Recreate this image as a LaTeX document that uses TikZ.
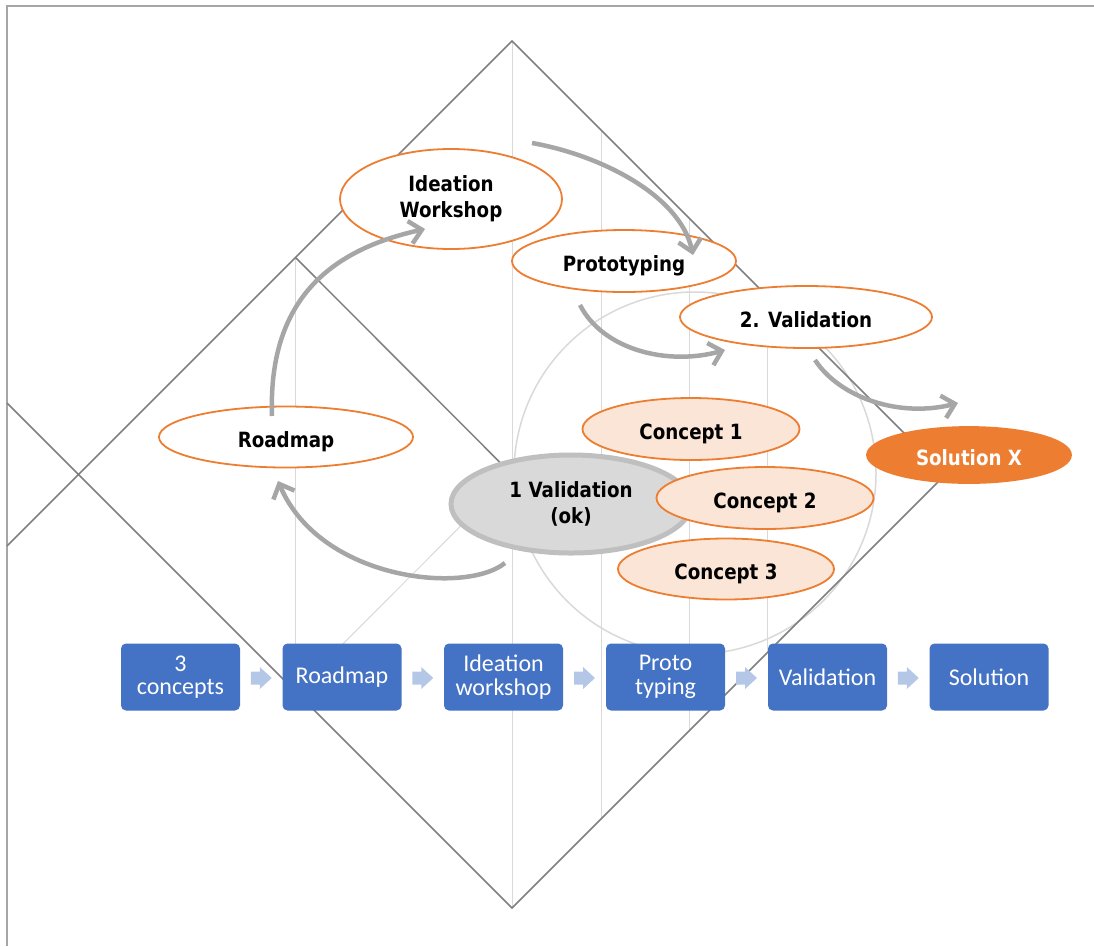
\documentclass[tikz,border=0pt]{standalone}
\usepackage{fontspec}
\setmainfont{Carlito}
\newfontfamily\elfont[FakeStretch=0.87]{DejaVu Sans}
\usetikzlibrary{arrows.meta,calc,shapes.geometric}

\definecolor{frameg}{HTML}{A6A6A6}
\definecolor{lineg}{HTML}{808080}
\definecolor{lightg}{HTML}{D9D9D9}
\definecolor{accent}{HTML}{ED7D31}
\definecolor{peach}{HTML}{FBE5D6}
\definecolor{boxblue}{HTML}{4472C4}
\definecolor{chevron}{HTML}{B4C7E7}
\definecolor{arrowg}{HTML}{A6A6A6}
\definecolor{okfill}{HTML}{D9D9D9}
\definecolor{okline}{HTML}{BFBFBF}

\begin{document}
\begin{tikzpicture}[x=1pt,y=-1pt,
  guide/.style={lightg, line width=1pt},
  edge/.style={lineg, line width=1.5pt},
  ell/.style={ellipse, draw=accent, line width=1.8pt, fill=white, inner sep=0pt,
    align=center, font={\elfont\bfseries\fontsize{21}{26}\selectfont}},
  oneline/.style={text height=20pt, text depth=0pt},
  concept/.style={ell, oneline, fill=peach},
  okell/.style={ell, draw=okline, line width=5pt, fill=okfill},
  solx/.style={ell, oneline, fill=accent, text=white},
  stepbox/.style={rectangle, rounded corners=5pt, fill=boxblue, text=white,
    minimum width=119pt, minimum height=67pt, inner sep=0pt, align=center,
    font={\fontsize{24}{23.5}\selectfont}},
  flow/.style={draw=arrowg, line width=4.5pt,
    -{Straight Barb[length=12pt,width=23pt]}}]

\useasboundingbox (0,0) rectangle (1094,946);

% frame
\draw[frameg, line width=2pt] (7,946) -- (7,6) -- (1094,6);

% key points of the diamond
\coordinate (top) at (512,41);
\coordinate (bot) at (512,908);
\coordinate (rgt) at (945.5,474.5);
\coordinate (ctr) at (512,474.5);
\coordinate (tl) at (295.5,257.5);
\coordinate (bl) at (295.5,691.5);

% light vertical guides
\draw[guide] (tl) -- (bl);
\draw[guide] (top) -- (bot);
\draw[guide] (601,130.5) -- (601,819);
\draw[guide] (689,218.5) -- (689,731);
\draw[guide] (767,296.5) -- (767,653);
\draw[guide] (ctr) -- (bl);

% circle
\draw[lightg, line width=1.5pt] (695,473) circle[radius=181];

% diamond edges
\draw[edge] (7,546) -- (top) -- (rgt) -- (bot) -- (7,403);
\draw[edge] (tl) -- (ctr);

% ellipses
\node[ell, minimum width=222pt, minimum height=100pt] (ideation) at (451,199) {Ideation\\Workshop};
\node[ell, oneline, minimum width=224pt, minimum height=62pt] (proto) at (624,261) {Prototyping};
\node[ell, oneline, minimum width=252pt, minimum height=62pt] (val2) at (806,317) {2. Validation};
\node[ell, oneline, minimum width=254pt, minimum height=61pt] (roadmap) at (286,437) {Roadmap};
\node[concept, minimum width=217pt, minimum height=62pt] (c1) at (691,429) {Concept 1};
\node[okell, minimum width=240pt, minimum height=98pt] (ok) at (571,504) {1 Validation\\(ok)};
\node[concept, minimum width=217pt, minimum height=62pt] (c2) at (765,498) {Concept 2};
\node[concept, minimum width=216pt, minimum height=61pt] (c3) at (726,569) {Concept 3};
\node[solx, minimum width=204pt, minimum height=56pt] (solx) at (969,455) {Solution X};

% flow arrows
\coordinate (f1a) at ($(roadmap.center)+(-14,-21)$);
\coordinate (f1b) at ($(ideation.center)+(-26,30)$);
\coordinate (f2a) at ($(ideation.center)+(81,-56)$);
\coordinate (f2b) at ($(proto.center)+(69,-6)$);
\coordinate (f3a) at ($(proto.center)+(-44,44)$);
\coordinate (f3b) at ($(val2.center)+(-81,33)$);
\coordinate (f4a) at ($(val2.center)+(9,43)$);
\coordinate (f4b) at ($(solx.center)+(-11,-52)$);
\coordinate (f5a) at ($(ok.center)+(-66,59)$);
\coordinate (f5b) at ($(roadmap.center)+(-8,44)$);

\draw[flow] (f1a) .. controls (268,300) and (330,250) .. (f1b);
\draw[flow] (f2a) .. controls (600,155) and (680,195) .. (f2b);
\draw[flow] (f3a) .. controls (603,350) and (668,366) .. (f3b);
\draw[flow] (f4a) .. controls (840,398) and (900,418) .. (f4b);
\draw[flow] (f5a) .. controls (465,595) and (320,580) .. (f5b);

% process steps
\node[stepbox] (s1) at (180.5,677) {3\\concepts};
\node[stepbox] (s2) at (342,677) {Roadmap};
\node[stepbox] (s3) at (503.5,677) {Ideation\\workshop};
\node[stepbox] (s4) at (665.5,677) {Proto\\typing};
\node[stepbox] (s5) at (827.5,677) {Validation};
\node[stepbox] (s6) at (989,677) {Solution};

% chevrons between steps
\foreach \a/\b in {s1/s2,s2/s3,s3/s4,s4/s5,s5/s6}{
  \path ($(\a.east)!0.5!(\b.west)$) ++(0,1) coordinate (m);
  \fill[chevron] ($(m)+(-10.5,-6.5)$) -- ++(9,0) -- ++(0,-4.5) -- ++(12,11)
    -- ++(-12,11) -- ++(0,-4.5) -- ++(-9,0) -- cycle;
}
\end{tikzpicture}
\end{document}
